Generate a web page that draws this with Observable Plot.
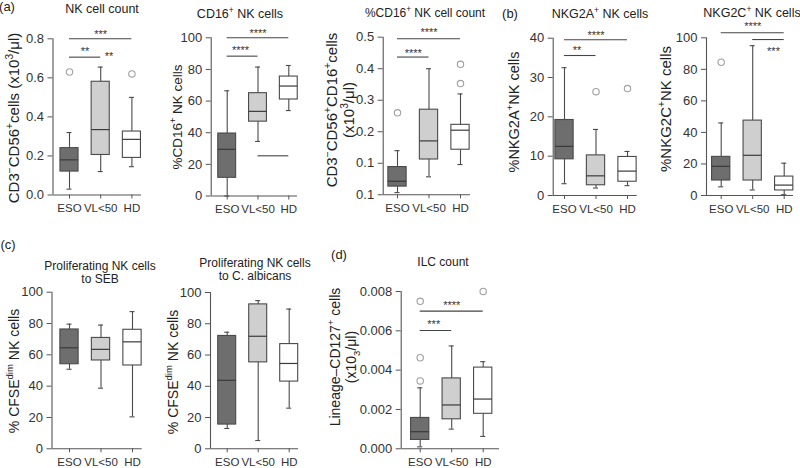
<!DOCTYPE html>
<html>
<head>
<meta charset="utf-8">
<script src="https://cdn.jsdelivr.net/npm/d3@7"></script>
<script src="https://cdn.jsdelivr.net/npm/@observablehq/plot@0.6"></script>
<style>
  html, body { margin: 0; padding: 0; background: #fff; }
  #fig { position: relative; width: 800px; height: 468px; overflow: hidden; background: #fff;
         font-family: "Liberation Sans", Arial, Helvetica, sans-serif; color: #222; }
  #fig svg { position: absolute; left: 0; top: 0; }
  .t { position: absolute; white-space: nowrap; text-align: center; transform: translate(-50%, -50%); line-height: 1.15; }
  .r { position: absolute; white-space: nowrap; text-align: center; transform: translate(-50%, -50%) rotate(-90deg); }
  sup, sub { font-size: 0.68em; line-height: 0; }
</style>
</head>
<body>
<div id="fig"></div>
<script>
// ---------------- DATA ----------------
const groups = ["ESO", "VL<50", "HD"];
const groupFills = ["#6e6e6e", "#cfcfcf", "#ffffff"];

// box stats per group: [min, q1, median, q3, max]
const nkCountStats = [[0.03, 0.12, 0.18, 0.24, 0.32], [0.12, 0.205, 0.335, 0.58, 0.655], [0.145, 0.19, 0.285, 0.325, 0.50]];
const nkCountOutliers = [[0, 0.63], [2, 0.62]];
const nkCountTicks = [0, 0.2, 0.4, 0.6, 0.8];
const nkCountTickLabels = ["0.0", "0.2", "0.4", "0.6", "0.8"];
const nkCountSigLines = [[0, 2, 0.8], [0, 1, 0.706]];
const nkCountSigText = [[1, 0.839, "***"], [0.5, 0.749, "**"], [1.27, 0.723, "**"]];

const cd16Stats = [[0, 11.5, 29.5, 39.5, 66.5], [34.5, 47, 53.5, 65, 81.5], [54, 61, 69.5, 75.5, 82.5]];
const cd16Outliers = [];
const cd16Ticks = [0, 20, 40, 60, 80, 100];
const cd16TickLabels = ["0", "20", "40", "60", "80", "100"];
const cd16SigLines = [[0, 2, 100], [0, 1, 88.4], [1, 2, 25.4]];
const cd16SigText = [[1, 104.6, "****"], [0.43, 94.1, "****"]];

const cd16CountStats = [[0.007, 0.026, 0.043, 0.088, 0.14], [0.057, 0.112, 0.171, 0.27, 0.40], [0.096, 0.143, 0.205, 0.222, 0.32]];
const cd16CountOutliers = [[0, 0.26], [2, 0.414], [2, 0.353]];
const cd16CountTicks = [0, 0.1, 0.2, 0.3, 0.4, 0.5];
const cd16CountTickLabels = ["0.1", "0.1", "0.2", "0.3", "0.4", "0.5"];
const cd16CountSigLines = [[0, 2, 0.495], [0, 1, 0.437]];
const cd16CountSigText = [[1, 0.523, "****"], [0.5, 0.458, "****"]];

const nkg2aStats = [[3, 9.2, 12.5, 19.2, 32.5], [1.9, 2.6, 5, 10.2, 16.8], [2.5, 3.5, 6.2, 9.8, 11.2]];
const nkg2aOutliers = [[1, 26.4], [2, 27.2]];
const nkg2aTicks = [0, 10, 20, 30, 40];
const nkg2aTickLabels = ["0", "10", "20", "30", "40"];
const nkg2aSigLines = [[0, 2, 39.6], [0, 1, 35.6]];
const nkg2aSigText = [[1, 41.5, "****"], [0.4, 37.7, "**"]];

const nkg2cStats = [[5.5, 9.5, 18.5, 24.5, 46], [3.5, 9.5, 25.5, 47.5, 95], [0.5, 3.2, 6.6, 12, 20.5]];
const nkg2cOutliers = [[0, 84.5]];
const nkg2cTicks = [0, 20, 40, 60, 80, 100];
const nkg2cTickLabels = ["0", "20", "40", "60", "80", "100"];
const nkg2cSigLines = [[0, 2, 103.2], [1, 2, 98.9]];
const nkg2cSigText = [[1, 108.9, "****"], [1.66, 93.4, "***"]];

const sebStats = [[50.8, 54, 64.5, 76.2, 79.6], [38.7, 56.4, 63.5, 70.8, 79], [20.4, 53.2, 68.3, 76, 87.6]];
const sebOutliers = [];
const sebTicks = [0, 20, 40, 60, 80, 100];
const sebTickLabels = ["0", "20", "40", "60", "80", "100"];
const sebSigLines = [];
const sebSigText = [];

const albStats = [[13, 15.5, 43.8, 72.2, 74.6], [5.3, 55.3, 72, 92.4, 94.8], [26, 43, 54.6, 67, 89.4]];
const albOutliers = [];
const albTicks = [0, 20, 40, 60, 80, 100];
const albTickLabels = ["0", "20", "40", "60", "80", "100"];
const albSigLines = [];
const albSigText = [];

const ilcStats = [[0.0001, 0.00045, 0.00087, 0.00157, 0.0031], [0.001, 0.0015, 0.00223, 0.00358, 0.00523], [0.00063, 0.00178, 0.00253, 0.00413, 0.00443]];
const ilcOutliers = [[0, 0.0075], [0, 0.00463], [0, 0.00345], [2, 0.008]];
const ilcTicks = [0, 0.002, 0.004, 0.006, 0.008];
const ilcTickLabels = ["0.000", "0.002", "0.004", "0.006", "0.008"];
const ilcSigLines = [[0, 2, 0.0070], [0, 1, 0.00602]];
const ilcSigText = [[1, 0.00746, "****"], [0.43, 0.00649, "***"]];

// ---------------- LAYOUT ----------------
const panels = [
  {stats: nkCountStats, out: nkCountOutliers, ticks: nkCountTicks, labels: nkCountTickLabels, sigL: nkCountSigLines, sigT: nkCountSigText,
   axis: 52.5, c0: 69, s: 31.2, zero: 194.5, top: 38.3, xEnd: 141,
   title: "NK cell count", tx: 102, ty: 8.5, tsize: 12.5,
   ylab: "CD3<sup>−</sup>CD56<sup>+</sup>cells (x10<sup>3</sup>/μl)", yx: 13, yy: 118, ysize: 15},
  {stats: cd16Stats, out: cd16Outliers, ticks: cd16Ticks, labels: cd16TickLabels, sigL: cd16SigLines, sigT: cd16SigText,
   axis: 210.7, c0: 226.7, s: 30.8, zero: 195.5, top: 37.3, xEnd: 297,
   title: "CD16<sup>+</sup> NK cells", tx: 240, ty: 14, tsize: 12.5,
   ylab: "%CD16<sup>+</sup> NK cells", yx: 177, yy: 117, ysize: 13.5},
  {stats: cd16CountStats, out: cd16CountOutliers, ticks: cd16CountTicks, labels: cd16CountTickLabels, sigL: cd16CountSigLines, sigT: cd16CountSigText,
   axis: 382.7, c0: 397, s: 31.5, zero: 194.3, top: 36.7, xEnd: 470,
   title: "%CD16<sup>+</sup> NK cell count", tx: 425, ty: 14, tsize: 12,
   ylab: "CD3<sup>−</sup>CD56<sup>+</sup>CD16<sup>+</sup>cells<br>(x10<sup>3</sup>/μl)", yx: 340, yy: 110, ysize: 15},
  {stats: nkg2aStats, out: nkg2aOutliers, ticks: nkg2aTicks, labels: nkg2aTickLabels, sigL: nkg2aSigLines, sigT: nkg2aSigText,
   axis: 552.7, c0: 564, s: 31.5, zero: 195, top: 37.7, xEnd: 636.7,
   title: "NKG2A<sup>+</sup> NK cells", tx: 600, ty: 14, tsize: 12.5,
   ylab: "%NKG2A<sup>+</sup>NK cells", yx: 514, yy: 112, ysize: 14.5},
  {stats: nkg2cStats, out: nkg2cOutliers, ticks: nkg2cTicks, labels: nkg2cTickLabels, sigL: nkg2cSigLines, sigT: nkg2cSigText,
   axis: 706, c0: 720.7, s: 31.5, zero: 195, top: 37.3, xEnd: 793,
   title: "NKG2C<sup>+</sup> NK cells", tx: 752, ty: 13, tsize: 12.5,
   ylab: "%NKG2C<sup>+</sup>NK cells", yx: 665, yy: 109, ysize: 15},
  {stats: sebStats, out: sebOutliers, ticks: sebTicks, labels: sebTickLabels, sigL: sebSigLines, sigT: sebSigText,
   axis: 51.5, c0: 69, s: 31.5, zero: 448.3, top: 291.7, xEnd: 141.7,
   title: "Proliferating NK cells<br>to SEB", tx: 100, ty: 273.5, tsize: 12,
   ylab: "% CFSE<sup>dim</sup> NK cells", yx: 14, yy: 371, ysize: 14},
  {stats: albStats, out: albOutliers, ticks: albTicks, labels: albTickLabels, sigL: albSigLines, sigT: albSigText,
   axis: 210, c0: 226.7, s: 31, zero: 448.3, top: 292, xEnd: 298,
   title: "Proliferating NK cells<br>to C. albicans", tx: 255, ty: 270.5, tsize: 12,
   ylab: "% CFSE<sup>dim</sup> NK cells", yx: 173, yy: 372, ysize: 14},
  {stats: ilcStats, out: ilcOutliers, ticks: ilcTicks, labels: ilcTickLabels, sigL: ilcSigLines, sigT: ilcSigText,
   axis: 400.7, c0: 419.7, s: 31.5, zero: 448.3, top: 291, xEnd: 499,
   title: "ILC count", tx: 443, ty: 263, tsize: 12,
   ylab: "Lineage–CD127<sup>+</sup> cells<br>(x10<sub>3</sub>/μl)", yx: 343, yy: 357, ysize: 14}
];
const panelLetters = [["(a)", 7, 7], ["(b)", 510, 14], ["(c)", 8, 245], ["(d)", 339, 255]];

// ---------------- DRAW ----------------
const fig = document.getElementById("fig");
const hw = 0.29, cap = 0.08;

function drawPanel(p) {
  const stats = p.stats.map((s, i) => ({i, min: s[0], q1: s[1], med: s[2], q3: s[3], max: s[4], fill: groupFills[i]}));
  const outs = p.out.map(d => ({i: d[0], v: d[1]}));
  const axX = (p.axis - p.c0) / p.s;
  const endX = (p.xEnd - p.c0) / p.s;
  const yTop = p.ticks[p.ticks.length - 1];
  const chart = Plot.plot({
    width: 800, height: 468,
    marginLeft: p.axis, marginRight: 800 - p.xEnd, marginTop: p.top, marginBottom: 468 - p.zero,
    x: {type: "linear", domain: [axX, endX], axis: null},
    y: {type: "linear", domain: [0, yTop], axis: null},
    style: {background: "transparent", overflow: "visible", fontFamily: "Liberation Sans, Arial, sans-serif", color: "#333"},
    marks: [
      Plot.ruleX([axX], {y1: 0, y2: yTop, stroke: "#555", strokeWidth: 1.1}),
      Plot.ruleY([0], {x1: axX, x2: endX, stroke: "#555", strokeWidth: 1.1}),
      Plot.axisY({ticks: p.ticks, tickFormat: d => p.labels[p.ticks.indexOf(d)], tickSize: 5, tickPadding: 4, fontSize: 13, label: null, stroke: "#555"}),
      Plot.axisX({ticks: [0, 1, 2], tickFormat: d => groups[d], tickSize: 4, tickPadding: 5, fontSize: 11.5, label: null, stroke: "#555"}),
      Plot.ruleX(stats, {x: "i", y1: "q3", y2: "max", stroke: "#4a4a4a", strokeWidth: 1.1}),
      Plot.ruleX(stats, {x: "i", y1: "min", y2: "q1", stroke: "#4a4a4a", strokeWidth: 1.1}),
      Plot.ruleY(stats, {y: "max", x1: d => d.i - cap, x2: d => d.i + cap, stroke: "#4a4a4a", strokeWidth: 1.1}),
      Plot.ruleY(stats, {y: "min", x1: d => d.i - cap, x2: d => d.i + cap, stroke: "#4a4a4a", strokeWidth: 1.1}),
      Plot.rectY(stats, {x1: d => d.i - hw, x2: d => d.i + hw, y1: "q1", y2: "q3", fill: "fill", stroke: "#4a4a4a", strokeWidth: 1.1}),
      Plot.ruleY(stats, {y: "med", x1: d => d.i - hw, x2: d => d.i + hw, stroke: "#3a3a3a", strokeWidth: 1.2}),
      Plot.dot(outs, {x: "i", y: "v", r: 3.2, stroke: "#a0a0a0", fill: "white", strokeWidth: 1.1}),
      Plot.ruleY(p.sigL, {x1: d => d[0], x2: d => d[1], y: d => d[2], stroke: "#444", strokeWidth: 1.1}),
      Plot.text(p.sigT, {x: d => d[0], y: d => d[1], text: d => d[2], fontSize: 11, fill: "#333", dy: 3})
    ]
  });
  fig.appendChild(chart);
}

function addText(html, x, y, size, cls) {
  const d = document.createElement("div");
  d.className = cls;
  d.style.left = x + "px";
  d.style.top = y + "px";
  d.style.fontSize = size + "px";
  d.innerHTML = html;
  fig.appendChild(d);
}

panels.forEach(p => {
  drawPanel(p);
  addText(p.title, p.tx, p.ty, p.tsize, "t");
  addText(p.ylab, p.yx, p.yy, p.ysize, "r");
});
panelLetters.forEach(([t, x, y]) => addText(t, x, y, 13, "t"));
</script>
</body>
</html>
